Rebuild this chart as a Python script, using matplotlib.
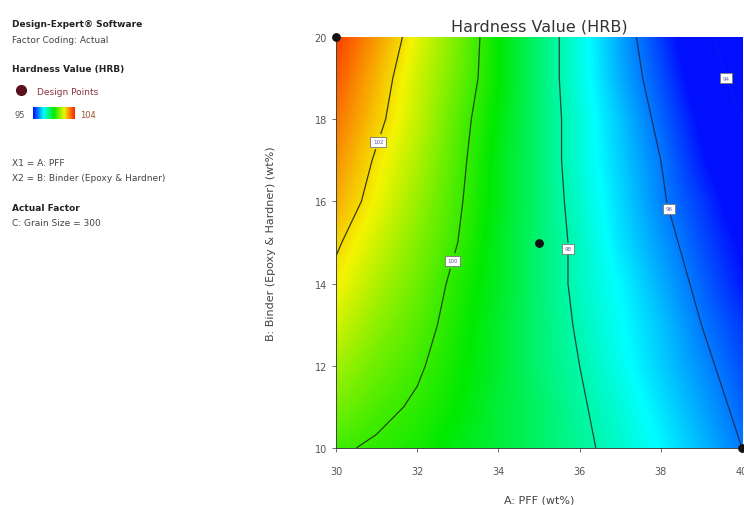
import numpy as np
import matplotlib
matplotlib.use('Agg')
import matplotlib.pyplot as plt
from matplotlib.colors import LinearSegmentedColormap
from matplotlib.lines import Line2D

# A: PFF (wt%) and B: Binder (wt%) grid nodes
pff = [30, 31, 32, 33, 34, 35, 36, 37, 38, 39, 40]
binder = [10, 11, 12, 13, 14, 15, 16, 17, 18, 19, 20]

# predicted hardness (HRB), one row per binder level
hardness = [
    [100.1, 99.9, 99.7, 99.3, 99.0, 98.6, 98.2, 97.7, 97.2, 96.6, 96.0],
    [100.6, 100.2, 99.9, 99.5, 99.0, 98.6, 98.1, 97.6, 97.0, 96.4, 95.8],
    [101.0, 100.5, 100.1, 99.6, 99.1, 98.5, 98.0, 97.4, 96.8, 96.2, 95.6],
    [101.4, 100.8, 100.3, 99.7, 99.1, 98.5, 97.9, 97.3, 96.7, 96.0, 95.4],
    [101.8, 101.1, 100.5, 99.8, 99.2, 98.5, 97.8, 97.2, 96.5, 95.8, 95.1],
    [102.1, 101.4, 100.7, 100.0, 99.2, 98.5, 97.8, 97.0, 96.3, 95.6, 94.9],
    [102.5, 101.7, 100.9, 100.1, 99.3, 98.5, 97.7, 96.9, 96.1, 95.4, 94.6],
    [102.8, 101.9, 101.1, 100.2, 99.3, 98.5, 97.6, 96.8, 96.0, 95.1, 94.3],
    [103.1, 102.2, 101.3, 100.3, 99.4, 98.5, 97.6, 96.7, 95.8, 94.9, 94.0],
    [103.4, 102.4, 101.4, 100.5, 99.5, 98.5, 97.5, 96.5, 95.6, 94.6, 93.6],
    [103.7, 102.7, 101.6, 100.6, 99.5, 98.5, 97.5, 96.4, 95.4, 94.3, 93.3],
]

contour_levels = [94, 96, 98, 100, 102]
label_spots = [(39.6, 19.0), (38.3, 15.85), (35.7, 14.85), (32.7, 14.6), (30.9, 17.5)]

design_x = [30, 35, 40]
design_y = [20, 15, 10]

hrb_min, hrb_max = 95, 104

de_cmap = LinearSegmentedColormap.from_list(
    'de', ['#0010ff', '#00ffff', '#00ea00', '#f4f400', '#ff2000'])

fig = plt.figure(figsize=(7.44, 5.06), dpi=100)
ax = fig.add_axes([0.4516, 0.1126, 0.5457, 0.8123])

Z = np.array(hardness)
X, Y = np.meshgrid(pff, binder)

ax.imshow(Z, origin='lower', cmap=de_cmap, vmin=hrb_min, vmax=hrb_max,
          extent=[29.5, 40.5, 9.5, 20.5], aspect='auto',
          interpolation='bilinear', interpolation_stage='data')

# the 94 line sits in the saturated blue and barely shows
cs = ax.contour(X, Y, Z, levels=contour_levels,
                colors=['#0818f4', '#203060', '#1a4a3a', '#1f4a10', '#3a3a10'],
                linewidths=0.9)
labels = ax.clabel(cs, fmt='%d', fontsize=4, manual=label_spots, inline=True,
                   inline_spacing=2, colors='#6a5a9a')
for t in labels:
    t.set_rotation(0)
    t.set_bbox(dict(boxstyle='square,pad=0.45', facecolor='white', edgecolor='#777777', linewidth=0.6))

ax.scatter(design_x, design_y, s=28, color='#111111', zorder=5, clip_on=False)

ax.set_xlim(30, 40)
ax.set_ylim(10, 20)
ax.set_xticks(range(30, 41, 2))
ax.set_yticks(range(10, 21, 2))
ax.tick_params(labelsize=7, colors='#555555', length=3, width=0.6)
ax.tick_params(axis='x', pad=10)
for side in ('top', 'right'):
    ax.spines[side].set_visible(False)
for side in ('left', 'bottom'):
    ax.spines[side].set_color('#444444')
    ax.spines[side].set_linewidth(0.7)

ax.set_title('Hardness Value (HRB)', fontsize=11.5, color='#333333', pad=5)
ax.set_xlabel('A: PFF (wt%)', fontsize=8, color='#444444', labelpad=13)
ax.set_ylabel('B: Binder (Epoxy & Hardner) (wt%)', fontsize=8, color='#444444', labelpad=28)

# side panel
fig.text(0.016, 0.946, 'Design-Expert\u00ae Software', fontsize=6.5, fontweight='bold', color='#222222')
fig.text(0.016, 0.916, 'Factor Coding: Actual', fontsize=6.5, color='#444444')
fig.text(0.016, 0.857, 'Hardness Value (HRB)', fontsize=6.5, fontweight='bold', color='#222222')
fig.add_artist(Line2D([0.028], [0.820], marker='o', markersize=7, color='#5a0f1a',
                      transform=fig.transFigure))
fig.text(0.050, 0.813, 'Design Points', fontsize=6.5, color='#8a3040')
fig.text(0.020, 0.767, '95', fontsize=6, color='#555555')
fig.text(0.108, 0.767, '104', fontsize=6, color='#a05030')
cax = fig.add_axes([0.045, 0.762, 0.056, 0.024])
cax.imshow(np.linspace(0, 1, 64)[None, :], cmap=de_cmap, aspect='auto')
cax.axis('off')
fig.text(0.016, 0.672, 'X1 = A: PFF', fontsize=6.5, color='#444444')
fig.text(0.016, 0.642, 'X2 = B: Binder (Epoxy & Hardner)', fontsize=6.5, color='#444444')
fig.text(0.016, 0.583, 'Actual Factor', fontsize=6.5, fontweight='bold', color='#222222')
fig.text(0.016, 0.553, 'C: Grain Size = 300', fontsize=6.5, color='#444444')

fig.savefig('out.png', dpi=100)
